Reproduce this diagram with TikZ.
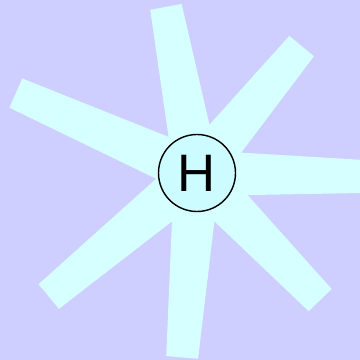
\documentclass[tikz,border=0pt]{standalone}
\usepackage{fontspec}
\setmainfont{Liberation Sans}
\usepackage{tikz}
\definecolor{bgpurple}{RGB}{206,206,255}
\definecolor{raycyan}{RGB}{214,255,255}
\definecolor{atomcyan}{RGB}{204,252,255}
\tikzset{
    ray/.style={fill=raycyan, draw=none},
    atom/.style={circle, draw=black, line width=0.8pt, fill=atomcyan, minimum size=1.54cm, inner sep=0pt, font=\fontsize{30}{30}\selectfont}
}

\begin{document}
\begin{tikzpicture}
            \clip (-3.94,-3.74) rectangle (3.26,3.46);
            \fill[bgpurple] (-3.94,-3.74) rectangle (3.26,3.46);

            % rays: angle/length
            \foreach \a/\l in {100.6/3.38, 50.5/3.29, 156.2/3.96, -1.2/3.6, 219.8/3.86, 265.4/3.70, -45.9/3.54}
                \fill[ray, rotate=\a] (0,-0.46) -- (\l,-0.32) -- (\l,0.32) -- (0,0.46) -- cycle;

            \node[atom] (h) at (0,0) {H};
        \end{tikzpicture}
\end{document}
